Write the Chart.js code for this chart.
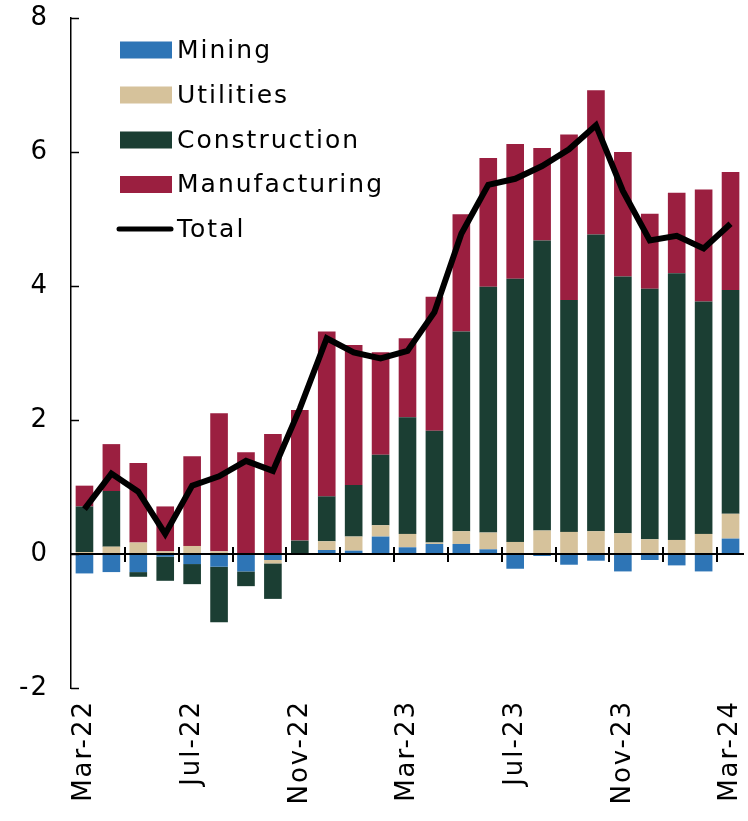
<!DOCTYPE html>
<html>
<head>
<meta charset="utf-8">
<script src="https://cdn.jsdelivr.net/npm/chart.js@4.4.1/dist/chart.umd.min.js"></script>
<style>
  html, body { margin: 0; padding: 0; background: #ffffff; }
  #wrap { width: 748px; height: 821px; }
</style>
</head>
<body>
<div id="wrap"><canvas id="c" width="748" height="821"></canvas></div>
<script>
const categories = ['Mar-22','Apr-22','May-22','Jun-22','Jul-22','Aug-22','Sep-22','Oct-22','Nov-22','Dec-22',
  'Jan-23','Feb-23','Mar-23','Apr-23','May-23','Jun-23','Jul-23','Aug-23','Sep-23','Oct-23','Nov-23','Dec-23',
  'Jan-24','Feb-24','Mar-24'];
const mining = [-0.29,-0.27,-0.27,-0.04,-0.15,-0.19,-0.26,-0.09,0.00,0.06,0.05,0.26,0.10,0.15,0.15,0.07,
  -0.22,-0.03,-0.16,-0.10,-0.26,-0.09,-0.17,-0.26,0.23];
const utilities = [0.03,0.11,0.17,0.04,0.12,0.04,0.01,-0.05,0.01,0.13,0.21,0.17,0.20,0.02,0.19,0.25,
  0.18,0.35,0.33,0.34,0.31,0.22,0.21,0.30,0.37];
const construction = [0.68,0.83,-0.07,-0.36,-0.30,-0.83,-0.22,-0.53,0.19,0.67,0.77,1.05,1.74,1.67,2.98,3.67,
  3.93,4.33,3.46,4.43,3.83,3.74,3.98,3.47,3.34];
const manufacturing = [0.31,0.70,1.19,0.67,1.34,2.06,1.51,1.79,1.95,2.46,2.09,1.53,1.18,2.00,1.75,1.92,
  2.01,1.38,2.47,2.15,1.86,1.12,1.20,1.67,1.76];
const total = [0.67,1.20,0.93,0.30,1.02,1.16,1.39,1.24,2.17,3.22,3.01,2.92,3.03,3.61,4.78,5.51,
  5.60,5.79,6.04,6.40,5.42,4.68,4.75,4.56,4.93];
const yTicks = [-2,0,2,4,6,8];
const labelEvery = 4;

const FONT = 'DejaVu Sans';
const SPACING = '2px';

const colors = {
  mining: '#2E75B6',
  utilities: '#D6C29B',
  construction: '#1B3E33',
  manufacturing: '#9B1F40',
  total: '#000000'
};

const spacingPlugin = {
  id: 'spacing',
  beforeLayout(chart) { chart.ctx.letterSpacing = SPACING; },
  beforeDraw(chart) { chart.ctx.letterSpacing = SPACING; }
};

const axesPlugin = {
  id: 'axesDecor',
  afterDatasetsDraw(chart) {
    const ctx = chart.ctx;
    const x = chart.scales.x, y = chart.scales.y;
    const area = chart.chartArea;
    ctx.save();
    ctx.strokeStyle = '#000';
    const y0 = y.getPixelForValue(0);
    ctx.lineWidth = 2;
    ctx.beginPath();
    ctx.moveTo(area.left, y0);
    ctx.lineTo(area.right, y0);
    ctx.stroke();
    const step = x.getPixelForValue(1) - x.getPixelForValue(0);
    ctx.lineWidth = 2;
    for (let i = 2; i < categories.length; i += 2) {
      const px = Math.round(x.getPixelForValue(i) - step / 2);
      ctx.beginPath();
      ctx.moveTo(px, y0 - 7);
      ctx.lineTo(px, y0 + 8);
      ctx.stroke();
    }
    ctx.lineWidth = 1.5;
    yTicks.forEach(v => {
      const py = Math.round(y.getPixelForValue(v)) + 0.5;
      ctx.beginPath();
      ctx.moveTo(area.left, py);
      ctx.lineTo(area.left + 8, py);
      ctx.stroke();
    });
    ctx.restore();
  },
  afterDraw(chart) {
    const ctx = chart.ctx;
    ctx.save();
    ctx.letterSpacing = SPACING;
    ctx.font = '25px "' + FONT + '"';
    ctx.textBaseline = 'middle';
    ctx.textAlign = 'left';
    const rows = [50, 95, 140, 184.5, 229];
    chart.data.datasets.forEach((ds, k) => {
      const cy = rows[k];
      if (ds.type === 'line') {
        ctx.strokeStyle = ds.borderColor;
        ctx.lineWidth = 5;
        ctx.lineCap = 'round';
        ctx.beginPath();
        ctx.moveTo(119, cy);
        ctx.lineTo(171, cy);
        ctx.stroke();
      } else {
        ctx.fillStyle = ds.backgroundColor;
        ctx.fillRect(120, cy - 8.5, 52, 17);
      }
      ctx.fillStyle = '#000';
      ctx.fillText(ds.label, 177, cy + 1);
    });
    ctx.restore();
  }
};

const barCommon = { type: 'bar', stack: 's', barPercentage: 0.655, categoryPercentage: 1.0, borderWidth: 0, order: 2 };

new Chart(document.getElementById('c'), {
  data: {
    labels: categories,
    datasets: [
      Object.assign({ label: 'Mining', data: mining, backgroundColor: colors.mining }, barCommon),
      Object.assign({ label: 'Utilities', data: utilities, backgroundColor: colors.utilities }, barCommon),
      Object.assign({ label: 'Construction', data: construction, backgroundColor: colors.construction }, barCommon),
      Object.assign({ label: 'Manufacturing', data: manufacturing, backgroundColor: colors.manufacturing }, barCommon),
      { type: 'line', label: 'Total', data: total, borderColor: colors.total, backgroundColor: colors.total,
        borderWidth: 6, pointRadius: 0, tension: 0, order: 1, borderJoinStyle: 'miter' }
    ]
  },
  options: {
    responsive: false,
    animation: false,
    devicePixelRatio: 1,
    layout: { padding: { top: 18, right: 4, left: 0, bottom: 0 } },
    plugins: { legend: { display: false }, tooltip: { enabled: false } },
    scales: {
      x: {
        stacked: true,
        grid: { display: false, drawTicks: false },
        border: { display: false },
        ticks: {
          autoSkip: false, maxRotation: 90, minRotation: 90, padding: 12,
          color: '#000', font: { family: FONT, size: 26 },
          callback: function(v, i) { return i % labelEvery === 0 ? categories[i] : ''; }
        },
        afterFit: s => { s.height = 133; s.paddingLeft = 0; s.paddingRight = 0; s.paddingTop = 0; s.paddingBottom = 0; }
      },
      y: {
        stacked: true,
        min: -2, max: 8,
        afterBuildTicks: s => { s.ticks = yTicks.map(v => ({ value: v })); },
        grid: { display: false, drawTicks: false },
        border: { display: true, color: '#000', width: 1.5 },
        ticks: { color: '#000', padding: 22, font: { family: FONT, size: 26 } },
        afterFit: s => { s.width = 71; s.paddingTop = 0; s.paddingBottom = 0; s.paddingLeft = 0; s.paddingRight = 0; }
      }
    }
  },
  plugins: [spacingPlugin, axesPlugin]
});
</script>
</body>
</html>
